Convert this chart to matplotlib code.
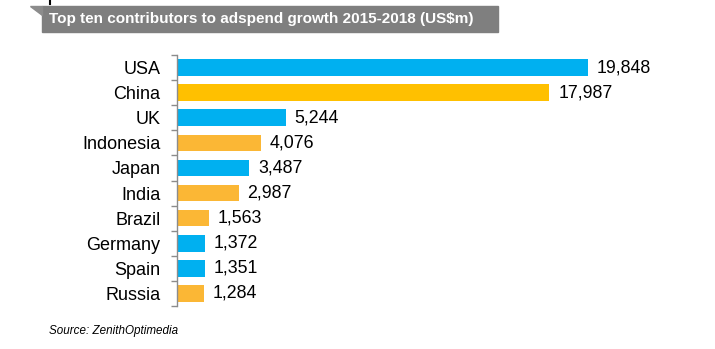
import numpy as np
import matplotlib.pyplot as plt
from matplotlib.patches import Polygon, Rectangle

countries = ['USA', 'China', 'UK', 'Indonesia', 'Japan', 'India',
             'Brazil', 'Germany', 'Spain', 'Russia']
growth = [19848, 17987, 5244, 4076, 3487, 2987, 1563, 1372, 1351, 1284]
groups = ['blue', 'gold', 'blue', 'orange', 'blue', 'orange',
          'orange', 'blue', 'blue', 'orange']

palette = {'blue': '#00B0F0', 'gold': '#FFC000', 'orange': '#FBB735'}
W, H = 715, 349

plt.rcParams['font.family'] = ['Liberation Sans', 'DejaVu Sans']

fig = plt.figure(figsize=(W / 100, H / 100), dpi=100)

def fx(px):
    return px / W

def fy(py):
    return 1 - py / H

# plot area in pixel terms
left, right, top, bottom = 177, 677, 55, 306
ax = fig.add_axes([fx(left), fy(bottom), fx(right - left), (bottom - top) / H])

pos = np.arange(len(countries))
ax.barh(pos, growth, height=0.66, color=[palette[g] for g in groups])
ax.set_xlim(0, 19848 * (right - left) / 411)
ax.set_ylim(len(countries) - 0.5, -0.5)

for y, v in zip(pos, growth):
    ax.text(v + 420, y, f'{v:,}', va='center', ha='left', fontsize=12.8,
            color='#000000')

ax.set_yticks(pos)
ax.set_yticklabels(countries, fontsize=13)
ax.set_yticks(np.arange(-0.5, len(countries)), minor=True)
ax.tick_params(axis='y', which='major', length=0, pad=12)
ax.tick_params(axis='y', which='minor', length=4.5, color='#8C8C8C', width=1)
ax.set_xticks([])
for s in ['top', 'right', 'bottom']:
    ax.spines[s].set_visible(False)
ax.spines['left'].set_color('#8C8C8C')
ax.spines['left'].set_linewidth(1)

# title banner with folded corner
fig.patches.append(Rectangle((fx(42), fy(32)), fx(498 - 42), (32 - 6) / H,
                             transform=fig.transFigure, color='#7F7F7F'))
fig.patches.append(Polygon([(fx(30), fy(6)), (fx(42), fy(6)), (fx(42), fy(15))],
                           closed=True, transform=fig.transFigure, color='#8C8C8C'))
fig.lines.append(plt.Line2D([fx(50), fx(50)], [fy(0), fy(4)], transform=fig.transFigure,
                            color='black', lw=1.5))
fig.text(fx(49), fy(19), 'Top ten contributors to adspend growth 2015-2018 (US$m)',
         color='white', fontsize=11, fontweight='bold', va='center', ha='left')

fig.text(fx(49), fy(331), 'Source: ZenithOptimedia', fontsize=8.4, style='italic',
         va='center', ha='left')

fig.savefig('out.png', dpi=100)
